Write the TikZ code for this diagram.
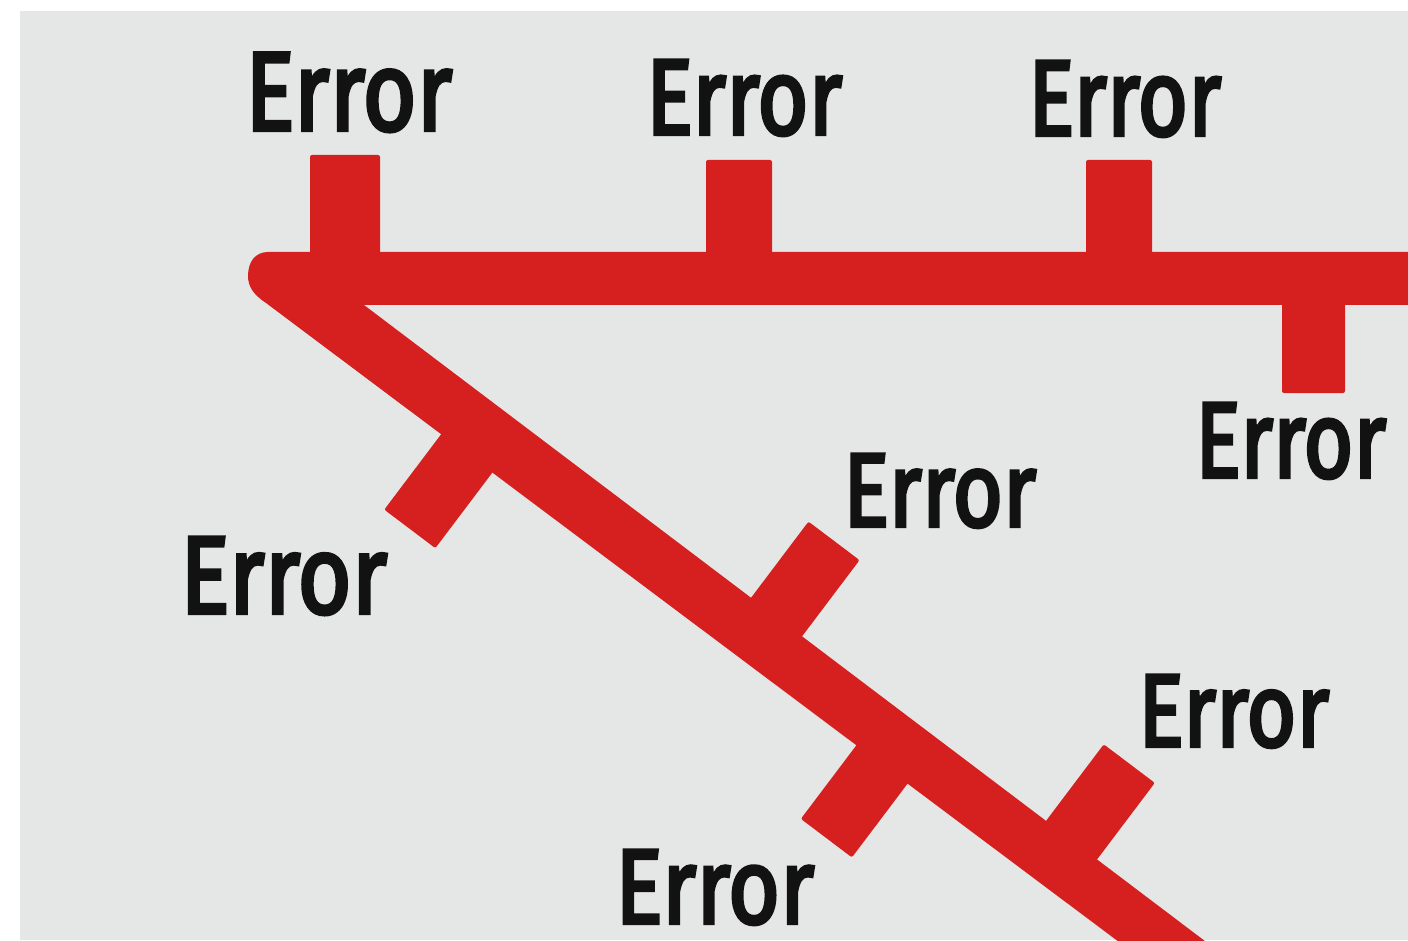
\documentclass[tikz,border=0pt]{standalone}
\usepackage{fontspec}
\newfontfamily\errfont{Fira Sans}[FakeBold=3.5]
\usepackage{graphicx}
\definecolor{panelgray}{RGB}{229,231,230}
\definecolor{signred}{RGB}{214,32,32}
\definecolor{inkblack}{RGB}{18,18,18}
\tikzset{
  redshape/.style={fill=signred},
  tabshape/.style={fill=signred, rounded corners=2pt},
  errlabel/.style={font=\errfont, text=inkblack, inner sep=0pt, anchor=north west}
}
\newcommand{\errword}[2]{\resizebox{#1pt}{#2pt}{Error}}
\begin{document}
\begin{tikzpicture}[x=1pt,y=-1pt]
\useasboundingbox (0,0) rectangle (1408,941);
\fill[white] (0,0) rectangle (1408,941);
\fill[panelgray] (20,11) rectangle (1408,940);
\begin{scope}
\clip (20,11) rectangle (1408,940);
% main bar: horizontal + diagonal with rounded corner cap
\fill[redshape] (1420,252) -- (268,252)
  .. controls (256,252) and (248,261) .. (248,276)
  .. controls (248,287) and (254,295) .. (266,303)
  -- (1143,960) -- (1230,960) -- (364,305) -- (1420,305) -- cycle;
% tabs on horizontal bar
\fill[tabshape] (310,155) rectangle (380,262);
\fill[tabshape] (706,160) rectangle (772,262);
\fill[tabshape] (1086,160) rectangle (1152,262);
\fill[tabshape] (1282,295) rectangle (1345,393);
% tabs on diagonal bar
\foreach \t/\ua/\ub in {171/20/124, 517/-20/-122, 690/20/120, 887/-20/-122}{
  \fill[tabshape]
    ({348+0.798*(\t-32)-0.602*(\ua)},{327+0.602*(\t-32)+0.798*(\ua)}) --
    ({348+0.798*(\t+32)-0.602*(\ua)},{327+0.602*(\t+32)+0.798*(\ua)}) --
    ({348+0.798*(\t+32)-0.602*(\ub)},{327+0.602*(\t+32)+0.798*(\ub)}) --
    ({348+0.798*(\t-32)-0.602*(\ub)},{327+0.602*(\t-32)+0.798*(\ub)}) -- cycle;
}
\end{scope}
% labels
\node[errlabel] (e1) at (245,53) {\errword{207}{77}};
\node[errlabel] (e2) at (646,60) {\errword{196}{74}};
\node[errlabel] (e3) at (1028,61) {\errword{193}{74}};
\node[errlabel] (e4) at (1195,403) {\errword{191}{74}};
\node[errlabel] (e5) at (843,454) {\errword{193}{72}};
\node[errlabel] (e6) at (180,537) {\errword{207}{76}};
\node[errlabel] (e7) at (1138,675) {\errword{191}{71}};
\node[errlabel] (e8) at (615,850) {\errword{199}{73}};
\end{tikzpicture}
\end{document}
